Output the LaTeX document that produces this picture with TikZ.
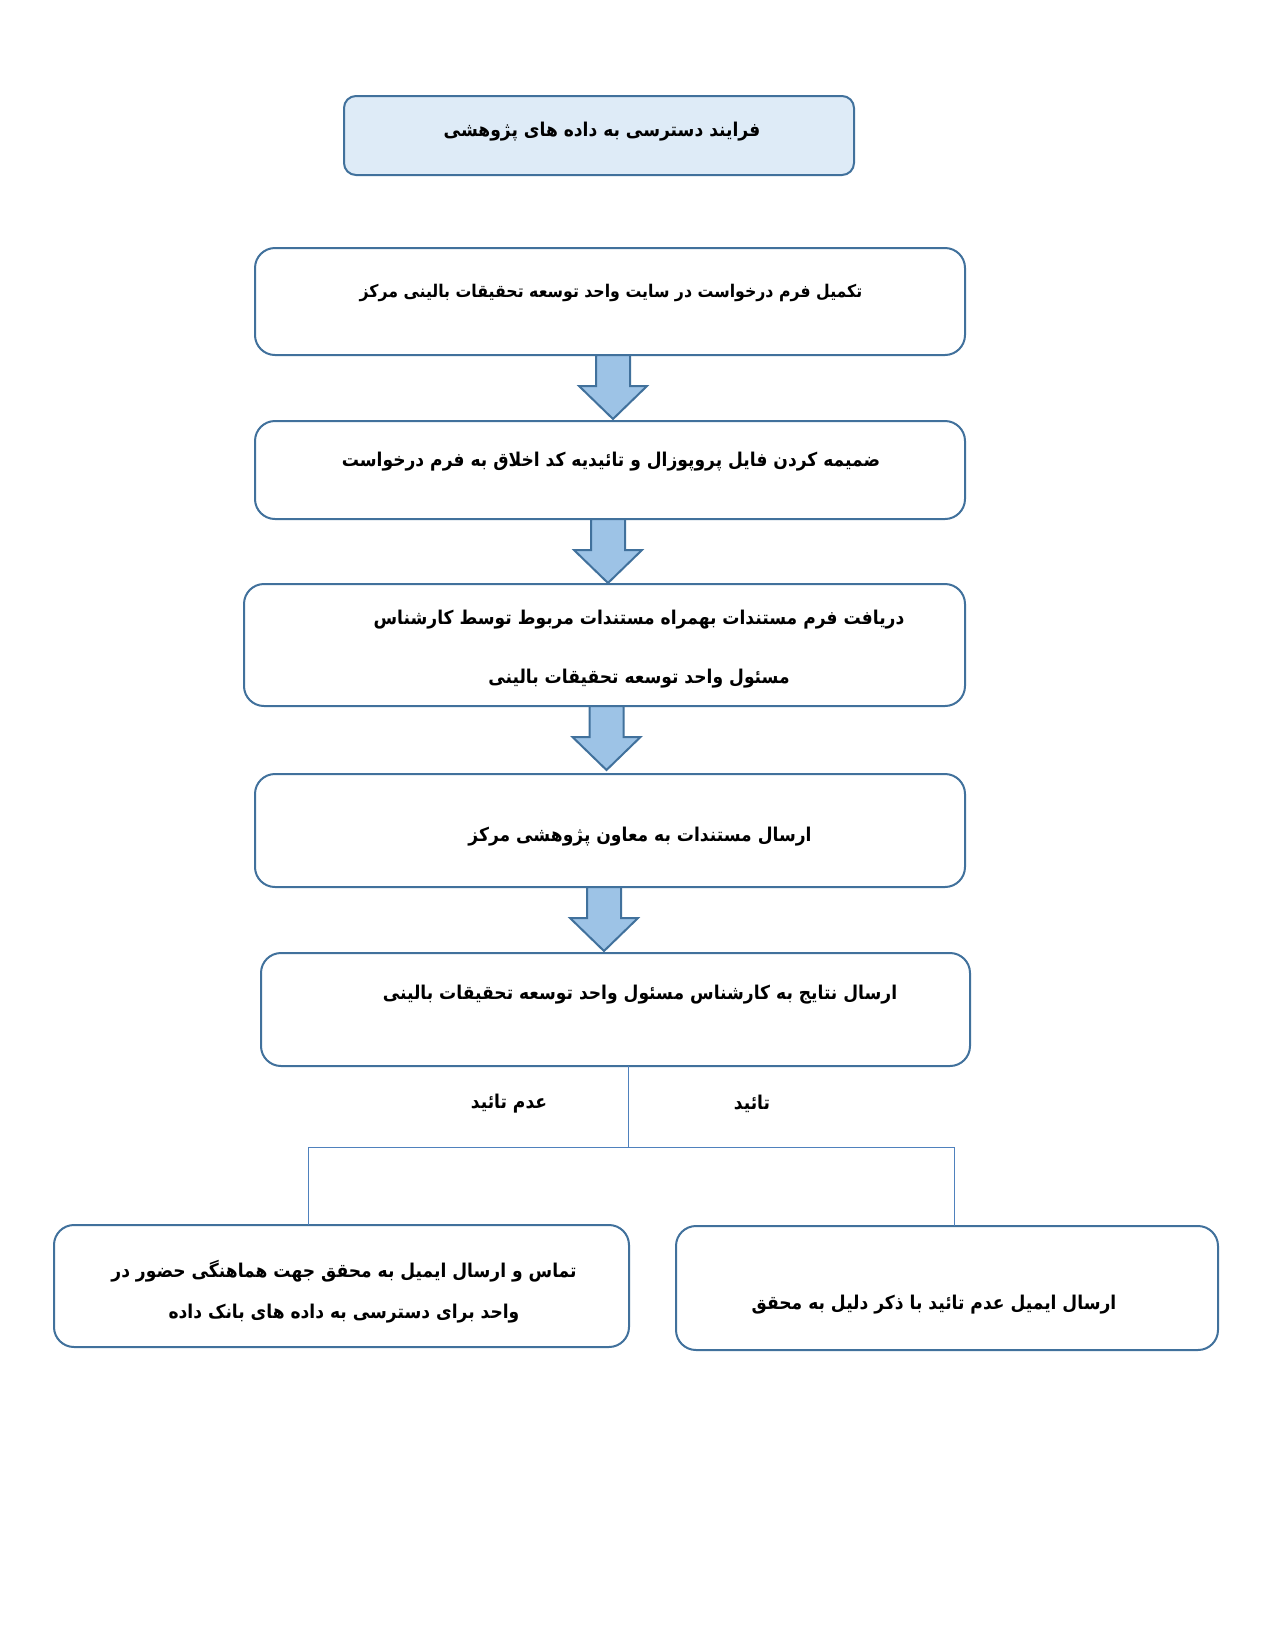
\documentclass[tikz,border=0pt]{standalone}
\usepackage{fontspec}
\usetikzlibrary{calc}
\TeXXeTstate=1
\newfontfamily\fa[Script=Arabic,FakeStretch=0.9]{DejaVu Sans}
\definecolor{bord}{HTML}{41719C}
\definecolor{titlefill}{HTML}{DEEBF7}
\definecolor{arrfill}{HTML}{9DC3E6}
\definecolor{connc}{HTML}{4F81BD}
\tikzset{
 box/.style={draw=bord, line width=2pt, rounded corners=20pt, inner sep=0pt, outer sep=0pt, fill=white},
 txt/.style={font=\fa\bfseries\fontsize{19}{23}\selectfont, inner sep=0pt, align=center},
 connline/.style={draw=connc, line width=1pt},
 blockarrow/.pic={\draw[draw=bord, fill=arrfill, line width=2pt, line join=miter]
   (-17,0) -- (17,0) -- (17,31) -- (34,31) -- (0,64) -- (-34,31) -- (-17,31) -- cycle;}
}
\begin{document}
\begin{tikzpicture}[x=1pt,y=-1pt]
\useasboundingbox[fill=white] (0,0) rectangle (1275,1650);
% title
\node[box, fill=titlefill, rounded corners=12pt, minimum width=510pt, minimum height=79pt] (title) at (599,135.5) {};
\node[txt] (ttitle) at (602,132) {\beginR فرایند دسترسی به داده های پژوهشی\endR};
% boxes
\node[box, minimum width=710pt, minimum height=107pt] (b1) at (610,301.5) {};
\node[box, minimum width=710pt, minimum height=98pt] (b2) at (610,470) {};
\node[box, minimum width=721pt, minimum height=122pt] (b3) at (604.5,645) {};
\node[box, minimum width=710pt, minimum height=113pt] (b4) at (610,830.5) {};
\node[box, minimum width=709pt, minimum height=113pt] (b5) at (615.5,1009.5) {};
\node[box, minimum width=575pt, minimum height=122pt] (bL) at (341.5,1286) {};
\node[box, minimum width=542pt, minimum height=124pt] (bR) at (947,1288) {};
% texts
\node[txt, font=\fa\bfseries\fontsize{17.5}{21}\selectfont] (t1) at (611,293) {\beginR تکمیل فرم درخواست در سایت واحد توسعه تحقیقات بالینی مرکز\endR};
\node[txt] (t2) at (611,461.5) {\beginR ضمیمه کردن فایل پروپوزال و تائیدیه کد اخلاق به فرم درخواست\endR};
\node[txt, font=\fa\bfseries\fontsize{19}{59}\selectfont] (t3) at (639,649.5) {\beginR دریافت فرم مستندات بهمراه مستندات مربوط توسط کارشناس\endR\\\beginR مسئول واحد توسعه تحقیقات بالینی\endR};
\node[txt] (t4) at (640,837) {\beginR ارسال مستندات به معاون پژوهشی مرکز\endR};
\node[txt] (t5) at (640,995) {\beginR ارسال نتایج به کارشناس مسئول واحد توسعه تحقیقات بالینی\endR};
\node[txt, font=\fa\bfseries\fontsize{19}{41}\selectfont] (tL) at (344,1291.5) {\beginR تماس و ارسال ایمیل به محقق جهت هماهنگی حضور در\endR\\\beginR واحد برای دسترسی به داده های بانک داده\endR};
\node[txt] (tR) at (934,1305) {\beginR ارسال ایمیل عدم تائید با ذکر دلیل به محقق\endR};
\node[txt] (lno) at (509,1104) {\beginR عدم تائید\endR};
\node[txt] (lyes) at (752,1104) {\beginR تائید\endR};
% block arrows
\pic at ([xshift=3pt]b1.south) {blockarrow};
\pic at ([xshift=-2pt]b2.south) {blockarrow};
\pic at ([xshift=2pt]b3.south) {blockarrow};
\pic at ([xshift=-6pt]b4.south) {blockarrow};
% split connectors
\coordinate (split) at (628,1147);
\coordinate (jl) at (308,1147);
\coordinate (jr) at (954,1147);
\draw[connline] (b5.south -| split) -- (split);
\draw[connline] (jl) -- (jr);
\draw[connline] (jl) -- (jl |- bL.north);
\draw[connline] (jr) -- (jr |- bR.north);
\end{tikzpicture}
\end{document}
